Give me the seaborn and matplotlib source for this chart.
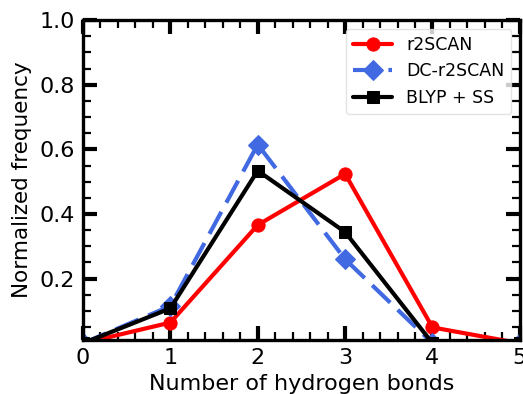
import matplotlib
matplotlib.use("Agg")
import matplotlib.pyplot as plt
from matplotlib.ticker import MultipleLocator
import seaborn as sns
import pandas as pd

# Hydrogen-bond count distributions for three functionals
n_hbonds = [0, 1, 2, 3, 4, 5]
r2scan = [0.0, 0.064, 0.366, 0.524, 0.049, 0.0]
dc_r2scan = [0.0, 0.115, 0.615, 0.260, 0.0, 0.0]
blyp_ss = [0.0, 0.108, 0.534, 0.344, 0.0, 0.0]

series_names = ["r2SCAN", "DC-r2SCAN", "BLYP + SS"]
series_values = [r2scan, dc_r2scan, blyp_ss]
colors = ["#ff0000", "#4169e1", "#000000"]
markers = ["o", "D", "s"]
linestyles = ["-", "--", "-"]
marker_sizes = [9.5, 10, 8.5]

sns.set_style("ticks")
plt.rcParams["font.family"] = ["DejaVu Sans"]
plt.rcParams["text.color"] = "black"
plt.rcParams["axes.labelcolor"] = "black"
plt.rcParams["xtick.color"] = "black"
plt.rcParams["ytick.color"] = "black"

fig = plt.figure(figsize=(5.23, 3.94), dpi=100)
ax = fig.add_axes([0.1587, 0.137, 0.8353, 0.812])

for name, vals, c, m, ls, ms in zip(series_names, series_values, colors,
                                    markers, linestyles, marker_sizes):
    df = pd.DataFrame({"n": n_hbonds, "freq": vals})
    sns.lineplot(data=df, x="n", y="freq", ax=ax, color=c, marker=m,
                 markersize=ms, markeredgecolor=c, linewidth=3,
                 linestyle=ls, label=name)
    if ls == "--":
        ax.lines[-1].set_dashes([6, 2.5])

ax.set_xlim(0, 5)
ax.set_ylim(0.01, 1.0)
ax.xaxis.set_major_locator(MultipleLocator(1))
ax.xaxis.set_minor_locator(MultipleLocator(0.2))
ax.yaxis.set_minor_locator(MultipleLocator(0.05))
ax.set_yticks([0.2, 0.4, 0.6, 0.8, 1.0])

ax.tick_params(which="both", direction="in", top=True, right=True,
               labelsize=16, colors="black")
ax.tick_params(which="major", length=10, width=3, pad=6)
ax.tick_params(which="minor", length=6, width=1.6)
for sp in ax.spines.values():
    sp.set_linewidth(2.4)
    sp.set_color("black")

ax.set_xlabel("Number of hydrogen bonds", fontsize=16, labelpad=4)
ax.set_ylabel("Normalized frequency", fontsize=15.5, labelpad=5)

leg = ax.legend(loc="upper right", fontsize=12.5, frameon=True,
                handlelength=2.25, borderaxespad=0.5)
leg.get_frame().set_edgecolor("#dddddd")

fig.savefig("out.png", dpi=100)
